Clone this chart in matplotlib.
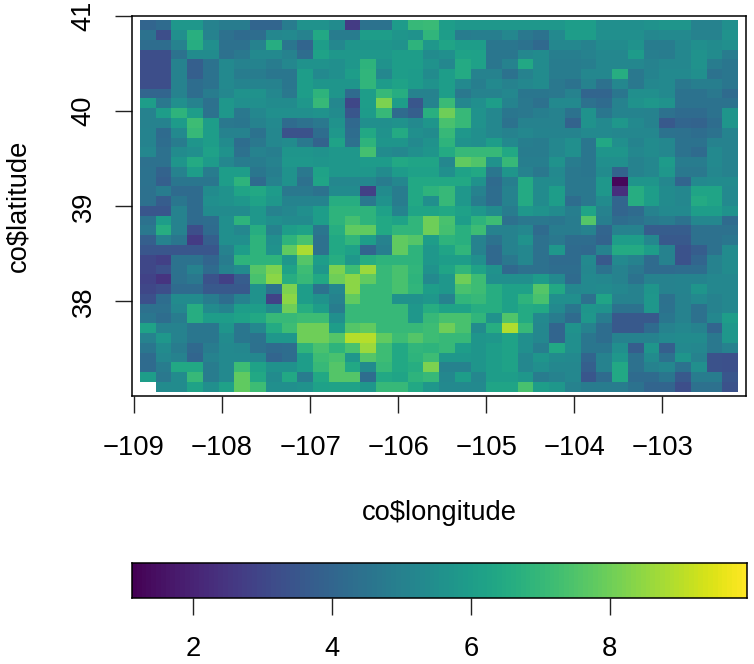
import numpy as np
import matplotlib
matplotlib.use('Agg')
import matplotlib.pyplot as plt
from matplotlib.colors import ListedColormap

plt.rcParams['font.family'] = ['Liberation Sans', 'DejaVu Sans']

# Columns 0-18, rows run north to south
z_west = [
    [4,4.2,5.8,5.8,5,4.8,4.8,4,4,4.8,5.6,5.6,5.4,2.7,4.5,4.5,5.9,7,7.1],
    [4.5,3.2,5.5,6.7,5,4.4,4.2,4.3,5.2,5.3,5,6.4,4.8,4.8,6,6,5.7,5.6,6.9],
    [4.3,4.3,5,6.6,5.5,4.4,4.4,5,6.6,4.6,4,6,5.2,5.7,5.7,5.7,5.6,6.8,5.8],
    [3.2,3.2,4.5,5.4,5.4,4.4,4.7,5.3,5.3,5,4.3,6.2,5.8,5.8,5.8,5.8,6,6,5.4],
    [3.2,3.2,5,3.8,4.5,5.3,5,5.1,4.8,5.2,5.6,5.6,5.5,5.8,6.8,5.6,6,6,5.6],
    [3.2,3.2,5,3.8,4.5,5.3,4.8,4.8,4.6,4.6,6,5.3,5.5,6,6.9,5.2,6,5.9,5.4],
    [3.2,3.2,5,4.3,4.5,5.3,5.1,5.1,5,4.6,6,5.7,5.7,5.7,6.9,5.9,6.2,5.9,5.6],
    [4,4,5,4.3,4.8,5.2,5.6,5.6,5.2,4.7,6,6.8,5.7,4.2,6,7,6.6,5,5],
    [6,4.7,5.5,5,4.4,5.8,5.5,5.5,5.4,5.4,5.8,7,5.2,3,6,8.2,6,3.5,5.1],
    [5,6,6.8,6,4.5,5.8,4.7,5.2,5.5,5.5,5.5,5.6,5.4,3.5,5.9,7,4.2,3.8,6.7],
    [5,5,5.9,7.2,6,4.7,4.6,5,5.3,4.2,4.4,4.7,5.6,4.1,5.5,5.5,5.6,5.3,5.7],
    [5.1,4.2,5.3,7,6,5,5,4.5,5.2,3.4,3.4,4.3,5.8,4.3,6.4,5.6,6.5,5.5,5.4],
    [5.1,4.3,4.8,5.7,6,5.4,4.3,4.7,5.2,5.4,4.7,3.9,6.2,4.4,6.8,5.7,5.7,5.3,5.6],
    [5.2,4.4,5.4,5.5,6.1,5.6,4.4,5,4.9,5.7,5.7,5.6,5.8,5.8,7.3,5.4,5.2,5.5,5.7],
    [4.4,4.4,5.7,6.5,5.9,5.2,4.8,4.8,5,5.8,5.8,5.7,5.8,5.8,5.9,5.9,6.4,6.3,6.3],
    [4.5,3.9,5,6,4.8,6,6,4.6,4.9,5.6,4.7,6.2,5.8,5.8,5.8,5.4,5.9,6.1,6.1],
    [4.5,3.8,4.6,4.6,4.6,6,6.8,4.2,5,5.6,4.4,6.3,5.2,5.2,5.2,4.8,5.2,6.4,6.4],
    [4.4,4.8,4.2,4.2,5.4,5.6,6.3,6.4,5.9,4.7,4.7,4.5,5.4,5.4,2.8,5.4,4.8,6.4,6.8],
    [4.4,3.7,4.6,4.2,5.5,5.6,5.8,6.2,5.8,5.1,5.1,5.1,6.6,6.6,4.7,5.6,4.8,6.4,5.5],
    [3.5,3.5,5,4.2,5.4,5.4,5.4,5.8,5,5.2,5.5,6,6.8,6.8,6.8,6.1,5.1,6.3,6.3],
    [4.5,6,5,4.2,4.3,5.5,6.8,5.8,5.5,5.4,5.4,6,6.8,7.3,6.8,6.4,6.2,6.9,8],
    [4.7,6.6,5,3.2,4.2,5.5,5.2,6.6,5,6,6.2,4.6,6.6,7.8,7.8,6.4,6.9,6.9,8],
    [3.8,5,4.6,2.7,3.8,5.5,5.5,6.8,5.5,6.8,7.4,4.4,6.4,6.9,6,5,7.8,7.6,6],
    [3.5,3.5,3.5,3.5,3.5,5,6,6.8,5.6,7.8,8.8,4.4,6.4,6.1,4,4.9,7.8,6.8,5.8],
    [3,2.8,4.5,4.5,4,4.8,6.8,6.8,6.8,5.8,7.6,6,6.6,5.8,6.6,6.8,6.8,6.8,5.8],
    [3,3.3,4.5,5,4.2,5,5.4,7.6,8.2,6.2,7.2,5.8,8.2,7.2,8.6,7,7.4,6.9,5.6],
    [2.9,2.5,4.4,4.7,3.4,2.8,3.7,7.4,8.4,6.6,7,6.4,8,8.4,7.8,7,7.4,6.8,5.3],
    [3,3.2,4.2,4.2,3.6,3.6,3.6,5.6,4.5,8.2,6,4.5,5.2,8.4,7,7,7.4,6.9,6],
    [3.3,4.3,5.4,5.4,4.8,4.3,5,5.6,2.9,8.4,6,5.6,5,7.8,7,7,5.6,5.6,5.8],
    [4.4,4.4,5.2,6.6,5.4,5.1,6,6,5.4,8,6.6,6,4.8,7,7,7,7,5.8,6.6],
    [4.6,4.3,4.8,6.6,6,6,6.2,6.4,7,7,7.2,7.2,5.5,7,7,7,7,5.8,7],
    [6.2,5,5,4.6,4.6,5.7,4.6,5.2,6.5,7.2,8,8,6,7.6,7.8,7,7,7,7.2],
    [5,5.8,5,4.6,4.6,5.4,4.6,4.5,5.8,5.8,8,8,7.6,9,9,7.8,7.2,7.6,7.2],
    [4.6,5.4,4.8,4.1,4.8,5.3,5.2,4.4,4.2,4.3,6.8,7.4,6.8,7.4,8.6,7.2,6.4,6.9,6.8],
    [4.2,5.2,5,4,5,5.3,5.3,5.2,4,4.3,6,7.2,7.4,5.8,7.6,7.2,6.4,6.8,7.2],
    [4.2,4.8,6.4,6.4,4.8,5.3,7.2,6.2,5.6,5.6,6,7,7.6,6.4,5.4,7,6.4,6.6,8.2],
    [6,4.7,5.4,7,4.8,5.3,7.8,6.4,5.4,6.4,4.8,6.4,7.6,7.6,4.3,6.4,6.3,6.8,7],
    [np.nan,5.4,5.4,6.2,5.5,6.1,7.8,7.2,5.5,5.5,5.6,6.1,6.2,6.2,5.8,7,7,6.4,5.8],
]

# Columns 19-37
z_east = [
    [6,5.8,5.8,5.8,5.8,5.8,5.8,5.8,6,6,5.5,5.5,5.5,5.6,5.7,5.7,5,5,5.5],
    [6,4.8,4.9,4.9,5.2,4.7,4.5,5.3,6,6,5.5,5.5,5.5,5.2,5.3,5.3,5,5,5.6],
    [6.3,6,6,4.6,4.6,4.5,4.1,5.2,5.2,5,5.4,5.4,5.6,4.8,4.8,5.2,5.5,5.4,5.5],
    [5.5,6.2,6.1,4.6,4.6,5.2,5.4,4.9,4.9,5,5.2,5.2,5.9,4.9,4.8,5.2,5.6,5.4,4.8],
    [5.2,6.5,6.1,4.6,5,6.4,5.4,4.8,4.8,4.9,5.2,5.2,5.2,5,5.2,5.2,5.6,4.8,4.6],
    [6,6.5,5,5,4.5,5,5.4,4.8,4.8,5.2,5.2,6.6,4.7,5.1,5.3,5.3,5.5,4.5,4.6],
    [6,5.3,4.9,5.3,5,5.2,5.4,4.7,4.5,5,4.4,5.2,4.7,5.2,5.3,4.7,4.9,4.9,4.6],
    [6,4.7,5,5,5.2,4.6,4.6,4.7,5,4,4,4.6,5.5,5.5,5.3,4.5,4.5,4.7,4.2],
    [7.1,5.2,5.5,6,5.1,4.7,4.4,5.3,5.3,4.4,4.2,5,5.6,5.8,5.6,4.5,4.5,4.5,4.5],
    [8,7,5.6,5.2,4.6,4.7,4.9,5,4.5,5.6,4.6,5.1,5.1,5,4.4,4.2,4.2,4.5,5.7],
    [7.4,7,5.6,5.2,4.5,5,5,5,3.9,5.6,5.3,5.8,5.3,5,3.6,4,3.9,4.3,5.7],
    [7,5.8,5.5,5.2,5,5.2,5.1,5.1,5.1,5.3,5.3,5.2,5.2,5.2,4.5,4.4,4.3,4.5,5.1],
    [6.8,5.6,5.5,6,5.3,4.9,4.8,5.2,5.5,4.6,6.4,5.5,5.1,5.4,5.2,4.5,4.5,5,5],
    [6.5,7,7,7,6.4,4.8,4.8,5.2,5.5,4.6,5.7,5.7,5.2,5.4,5.2,4.5,4.2,5.3,5],
    [5.2,7.8,7.5,5.6,7,4.9,4.9,5.6,4.8,4.6,5.5,5.5,5,5.2,5.9,4.8,4.8,5.3,5],
    [5.5,6.2,6.4,4.6,5.7,5,4.7,5.3,4.7,4.6,5.4,3.9,5,5.2,5.8,4.7,4.7,5.2,5],
    [6.4,6.4,5.6,4.2,4.9,6.5,5.4,5.4,4.7,4.7,5.8,1.3,5.7,5.7,5.2,4,5.3,5.4,5.4],
    [7,5.8,5,4.3,5,6.5,5.4,6,4.7,4.7,5.8,2.3,6.6,6,5.4,5.2,6.3,6.3,5.3],
    [7,5.8,4.8,4.3,5,6.5,5.4,6,4.3,4.7,5.4,4,6.6,6,5.4,5.2,6.5,6.3,5.3],
    [6.4,6.1,5.8,5.4,4.8,5.8,5.6,5.4,4.9,6.3,5,4,4.2,5,5.3,5.3,6,6,5.6],
    [7.4,6,6.8,7.2,4.4,4.7,4.7,4.6,4.8,7.6,4.9,4.3,4.4,4.7,4.8,4.5,5.2,5.2,4.2],
    [7.3,6.7,7.2,5,5,5.2,4.2,4.8,4.8,5,4,5,5,3.7,3.7,3.7,4.4,4.4,4.4],
    [6.8,6.7,5,4.5,5,5.6,4.4,4.7,4.3,4.3,3.9,6,6,5.2,3.6,3.6,4.4,4.4,4.6],
    [6.3,6.9,5,4.1,5,5.2,4.4,5.8,4.2,4.1,5,6.5,6.5,6,5,3.4,3.7,4.4,5.4],
    [6,6,5.5,4.1,4.7,5.2,4.4,4.2,4.2,5.3,3.6,5.3,5,4.2,5,3.4,4,5,5.4],
    [6.3,6.9,6.2,5.6,4.1,4.4,4.4,4.3,4.3,5.2,4.5,5,4.7,4.2,4.2,4.3,4.3,5,5.4],
    [5.8,8,7.2,5.5,5.5,5.5,5.9,5.3,4.2,5.3,5.2,5,4.5,5,5,5.1,5.1,5.2,5.2],
    [5.8,7.4,7.2,6.6,6.1,6.1,7.6,6.4,5.2,5.3,5.4,5.2,5,5.7,5,5.1,5.7,5.2,5.2],
    [5,6.9,7,6.6,6.1,6.8,7.4,5.5,5.5,4.4,6.3,5,5,5.8,4.4,5,5.3,5,5.2],
    [6.2,6.2,6.6,6.6,6.1,6.5,6.4,5.3,4.6,5.7,5.6,4.5,4.5,5.8,4.5,5,4.4,5,5.2],
    [7.4,7.4,6.9,5.6,7.5,6.5,5.3,4.8,4.2,5.8,4.8,3.6,3.6,3.6,4.6,5,4.4,5.2,6],
    [8,7.4,5.4,6.6,8.9,7,5.2,4,5.6,5,4.3,3.6,3.6,4.2,5,5.2,5,4,5.8],
    [7,7,5.7,5.8,6.2,5.5,5.2,4,5.5,4.6,4.3,5,5,5,5.3,5.4,5.4,4.7,5.8],
    [7,6,5.7,6,6.2,5.5,4.9,6.4,5.5,4.6,4.6,5.5,3.7,5.7,3.8,5.3,5.2,4.7,5],
    [5.8,5.8,5.7,6,6.2,5.2,5.7,5.4,5.3,4,5,5.8,4.4,5.4,4.4,5.7,5,3.4,3.3],
    [5,5,5.7,6,6.2,5.2,5.5,5.2,5.2,3.8,5,6.4,4.4,5,5.2,4.5,5.5,3.4,3.3],
    [5.2,6,5.2,6,6,5.8,4.8,5,5.2,3.5,4.2,6.4,4.2,4.2,4.6,3.6,4.8,4.8,3.5],
    [5.3,5.3,5.3,6.3,6.3,7.4,6,5.8,5,4.8,4.8,4.8,4.5,4,4,3.2,4.4,4.4,3.4],
]

lon_range = [-108.932, -102.14]
lat_range = [37.053, 40.955]
z_range = [1.12, 9.97]
lon_ticks = [-109, -108, -107, -106, -105, -104, -103]
lat_ticks = [38, 39, 40, 41]
bar_ticks = [2, 4, 6, 8]

W, H = 754, 664
FS = 19.7

def px_axes(fig, left, top, right, bottom):
    return fig.add_axes([left/W, 1-bottom/H, (right-left)/W, (bottom-top)/H])

z = np.hstack([np.array(z_west), np.array(z_east)])
lon_edges = np.linspace(lon_range[0], lon_range[1], z.shape[1]+1)
lat_edges = np.linspace(lat_range[1], lat_range[0], z.shape[0]+1)

cmap = ListedColormap(plt.get_cmap('viridis')(np.linspace(0, 1, 128)))
cmap.set_bad('white')

fig = plt.figure(figsize=(W/100, H/100), dpi=100)

ax = px_axes(fig, 132, 16, 746, 396)
ax.pcolormesh(lon_edges, lat_edges, z, cmap=cmap, vmin=z_range[0], vmax=z_range[1],
              shading='flat', antialiased=False, linewidth=0)
ax.set_xlim(-109.023, -102.05)
ax.set_ylim(37.007, 41.0)
ax.set_xticks(lon_ticks)
ax.set_xticklabels([str(t).replace('-', '\u2212') for t in lon_ticks])
ax.set_yticks(lat_ticks)
ax.set_yticklabels([str(t) for t in lat_ticks], rotation=90, va='center')
ax.tick_params(axis='both', length=12.2, width=1, labelsize=FS, color='#222222')
ax.tick_params(axis='x', pad=16)
ax.tick_params(axis='y', pad=13.3)
for s in ax.spines.values():
    s.set_linewidth(1.1)
fig.text(439.5/W, 1-513/H, 'co$longitude', fontsize=FS, ha='center', va='center', parse_math=False)
fig.text(18/W, 1-206/H, 'co$latitude', fontsize=FS, ha='center', va='center',
         rotation=90, parse_math=False)

# colour bar along the bottom
cax = px_axes(fig, 132, 563, 746.5, 598)
bar_edges = np.linspace(z_range[0], z_range[1], 129)
cax.pcolormesh(bar_edges, [0, 1], ((bar_edges[:-1]+bar_edges[1:])/2)[np.newaxis, :], cmap=cmap,
               vmin=z_range[0], vmax=z_range[1], antialiased=False, linewidth=0)
cax.set_xlim(z_range[0], z_range[1])
cax.set_yticks([])
cax.set_xticks(bar_ticks)
cax.tick_params(axis='x', length=12.2, width=1, labelsize=FS, pad=15, color='#222222')
for s in cax.spines.values():
    s.set_linewidth(1.1)

fig.savefig('out.png', dpi=100)
